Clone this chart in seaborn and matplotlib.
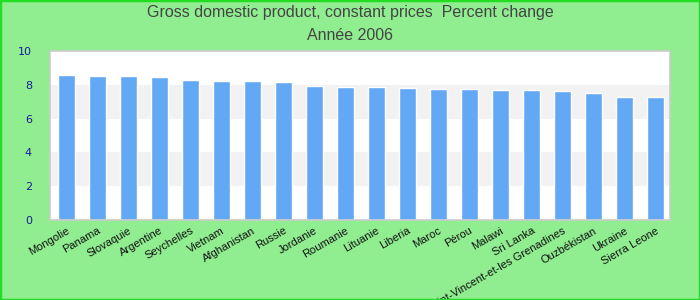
import matplotlib
matplotlib.use("Agg")
import matplotlib.pyplot as plt
import seaborn as sns
import pandas as pd
from matplotlib.patches import Rectangle

countries = ["Mongolie", "Panama", "Slovaquie", "Argentine", "Seychelles", "Vietnam",
             "Afghanistan", "Russie", "Jordanie", "Roumanie", "Lituanie", "Liberia",
             "Maroc", "Pérou", "Malawi", "Sri Lanka", "Saint-Vincent-et-les Grenadines",
             "Ouzbékistan", "Ukraine", "Sierra Leone"]
values = [8.60, 8.54, 8.54, 8.48, 8.30, 8.24, 8.24, 8.18, 7.94, 7.89,
          7.89, 7.83, 7.77, 7.77, 7.71, 7.71, 7.65, 7.53, 7.29, 7.29]
yticks = [0, 2, 4, 6, 8, 10]
title1 = "Gross domestic product, constant prices  Percent change"
title2 = "Année 2006"

df = pd.DataFrame({"country": countries, "value": values})

sns.set_theme(style="white")
plt.rcParams['font.family'] = ['Liberation Sans', 'DejaVu Sans']

fig = plt.figure(figsize=(7, 3), dpi=100)
fig.patch.set_facecolor("#90EE90")
fig.patches.append(Rectangle((0, 0), 1, 1, transform=fig.transFigure, fill=False,
                             edgecolor="#22dd22", linewidth=2.5, zorder=10))

ax = fig.add_axes([50/700, 80/300, 620/700, 169/300])
ax.set_facecolor("white")
for lo in (2, 6):
    ax.axhspan(lo, lo + 2, color="#f2f2f2", zorder=0, lw=0)

sns.barplot(data=df, x="country", y="value", color="#62a8f4", width=0.55,
            saturation=1, ax=ax, zorder=2)

ax.set_ylim(0, 10)
ax.set_xlim(-0.53, len(countries) - 0.53)
ax.set_yticks(yticks)
ax.set_yticklabels([str(t) for t in yticks], color="#1a1a99",
                   fontsize=8, family="DejaVu Sans")
ax.tick_params(axis="y", length=0, pad=13)
ax.tick_params(axis="x", length=0, pad=4)
ax.set_xticks(range(len(countries)))
ax.set_xticklabels(countries, rotation=30, ha="right", rotation_mode="anchor",
                   fontsize=8, color="#111111")
ax.set_xlabel("")
ax.set_ylabel("")
for s in ax.spines.values():
    s.set_color("#cccccc")
    s.set_linewidth(1.2)

fig.text(0.5, 1 - 13/300, title1, ha="center", va="center", fontsize=11.5, color="#444444")
fig.text(0.5, 1 - 35/300, title2, ha="center", va="center", fontsize=11.5, color="#444444")

fig.savefig("out.png", dpi=100, facecolor=fig.get_facecolor())
